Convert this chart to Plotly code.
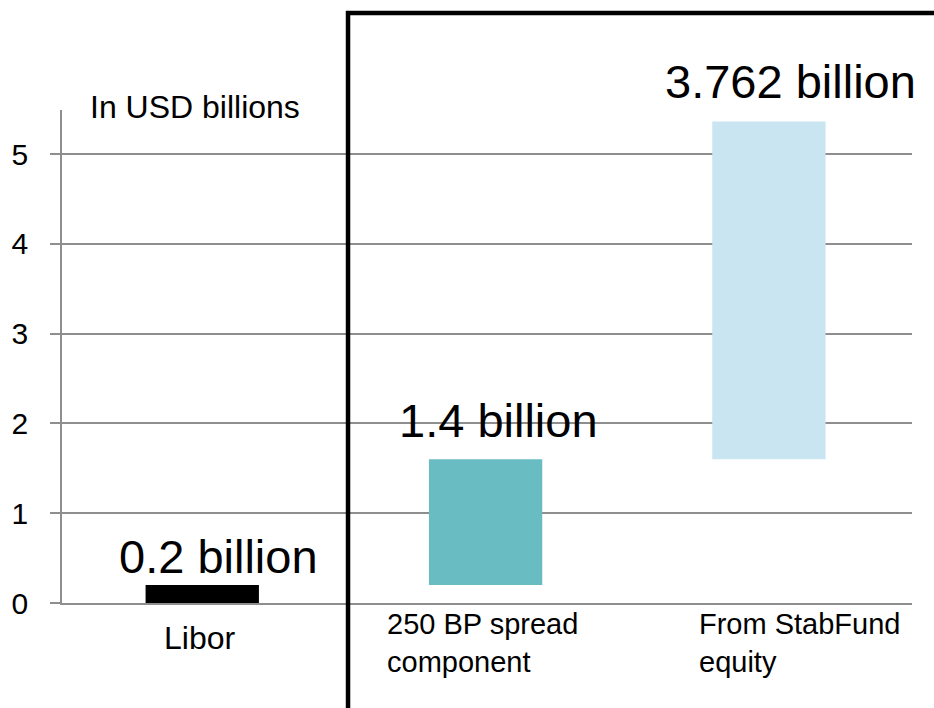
import numpy as np
import plotly.graph_objects as go

# Funding build-up, USD billions
categories = ["Libor", "250 BP spread component", "From StabFund equity"]
category_labels = ["Libor", "250 BP spread<br>component", "From StabFund<br>equity"]
values = [0.2, 1.4, 3.762]
value_labels = ["0.2 billion", "1.4 billion", "3.762 billion"]
bar_colors = ["#000000", "#68BCC2", "#CAE5F2"]
y_ticks = [0, 1, 2, 3, 4, 5]

# each step starts where the previous one ended
bases = list(np.concatenate([[0.0], np.cumsum(values)[:-1]]))
tops = [b + v for b, v in zip(bases, values)]

FONT = "Liberation Sans, Arial, sans-serif"
GRID = "#8E8E8E"

fig = go.Figure()
fig.add_trace(go.Bar(
    x=categories,
    y=values,
    base=bases,
    offset=-0.205,
    width=0.4,
    marker=dict(color=bar_colors, line=dict(width=0)),
    showlegend=False,
    hoverinfo="skip",
))

# value labels above each step
label_xshift = [15, 11, 20]
label_yshift = [0, 10, 11]
annotations = []
for cat, top, txt, xs, ys in zip(categories, tops, value_labels, label_xshift, label_yshift):
    annotations.append(dict(
        x=cat, y=top, xref="x", yref="y", text=txt, showarrow=False,
        xanchor="center", yanchor="bottom", xshift=xs, yshift=ys,
        font=dict(family=FONT, size=47, color="#000000"),
    ))

# category labels under the baseline
cat_anchor = ["center", "left", "left"]
cat_xshift = [-4, -102, -73]
cat_yshift = [-15, -3, -3]
cat_size = [32, 29, 29]
for cat, txt, anc, xs, ys, fs in zip(categories, category_labels, cat_anchor,
                                     cat_xshift, cat_yshift, cat_size):
    annotations.append(dict(
        x=cat, y=0, xref="x", yref="y", text=txt, showarrow=False,
        xanchor=anc, yanchor="top", align="left", xshift=xs, yshift=ys,
        font=dict(family=FONT, size=fs, color="#000000"),
    ))

# unit note
annotations.append(dict(
    x=0.031, y=1.006, xref="paper", yref="paper", text="In USD billions",
    showarrow=False, xanchor="left", yanchor="middle",
    font=dict(family=FONT, size=32, color="#000000"),
))

fig.update_layout(
    width=934, height=708,
    margin=dict(l=59, r=22, t=110, b=105, pad=0),
    paper_bgcolor="white", plot_bgcolor="white",
    font=dict(family=FONT, size=29, color="#000000"),
    annotations=annotations,
    shapes=[dict(
        type="path", xref="paper", yref="paper",
        path="M 0.3365,-0.25 L 0.3365,1.1968 L 1.05,1.1968",
        line=dict(color="#000000", width=4.5),
        layer="above",
    )],
)

fig.update_xaxes(
    showticklabels=False, ticks="", showgrid=False,
    showline=True, linecolor=GRID, linewidth=1.5,
    zeroline=False, range=[-0.5, 2.5],
)
fig.update_yaxes(
    range=[0, 5.49], tickvals=y_ticks, ticktext=[str(t) for t in y_ticks],
    showgrid=True, gridcolor=GRID, gridwidth=1.5,
    zeroline=False, showline=True, linecolor=GRID, linewidth=1.5,
    ticks="outside", ticklen=10, tickcolor=GRID, tickwidth=1.5,
    ticklabelstandoff=16,
    tickfont=dict(family=FONT, size=30, color="#000000"),
)

fig.write_html("out.html")
